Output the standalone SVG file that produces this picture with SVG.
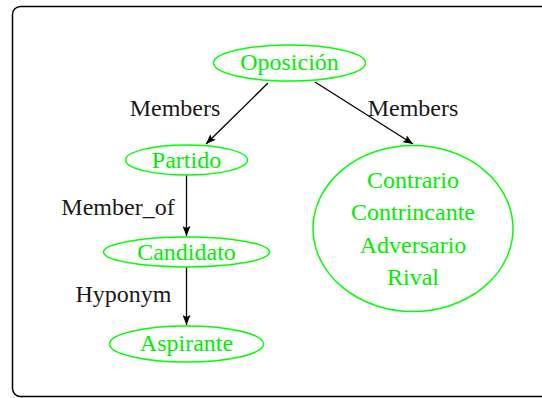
<svg xmlns="http://www.w3.org/2000/svg" width="542" height="398" viewBox="0 0 542 398">
<defs>
<marker id="ah" viewBox="0 0 10 8" refX="10" refY="4" markerWidth="10" markerHeight="8" markerUnits="userSpaceOnUse" orient="auto">
<path d="M0,0 L10,4 L0,8 L2,4 Z" fill="#000"/>
</marker>
</defs>
<rect x="12.5" y="6.5" width="545" height="390" rx="8" fill="#fff" stroke="#000" stroke-width="1.5"/>
<g id="edges" stroke="#000" stroke-width="1.3" fill="none">
<line x1="268" y1="83" x2="206" y2="144" marker-end="url(#ah)"/>
<line x1="315" y1="82" x2="413" y2="144" marker-end="url(#ah)"/>
<line x1="186.5" y1="175" x2="186.5" y2="236" marker-end="url(#ah)"/>
<line x1="186.5" y1="267" x2="186.5" y2="325" marker-end="url(#ah)"/>
</g>
<g id="labels" fill="#1a1a1a">
<text x="175" y="116" font-family="Times New Roman" font-size="24" text-anchor="middle" style="font-family:'Liberation Serif','Times New Roman',serif">Members</text>
<text x="413" y="116" font-family="Times New Roman" font-size="24" text-anchor="middle" style="font-family:'Liberation Serif','Times New Roman',serif">Members</text>
<text x="118" y="215" font-family="Times New Roman" font-size="24" text-anchor="middle" style="font-family:'Liberation Serif','Times New Roman',serif">Member_of</text>
<text x="123.5" y="302" font-family="Times New Roman" font-size="24" text-anchor="middle" style="font-family:'Liberation Serif','Times New Roman',serif">Hyponym</text>
</g>
<g id="oposicion">
<ellipse cx="289.5" cy="63" rx="76" ry="18" fill="none" stroke="#00ff00" stroke-width="1.5"/>
<text x="289.5" y="70" font-family="Times New Roman" font-size="24" text-anchor="middle" fill="#00ee00" style="font-family:'Liberation Serif','Times New Roman',serif">Oposición</text>
</g>
<g id="partido">
<ellipse cx="186.5" cy="160" rx="61" ry="15" fill="none" stroke="#00ff00" stroke-width="1.5"/>
<text x="186.5" y="168" font-family="Times New Roman" font-size="24" text-anchor="middle" fill="#00ee00" style="font-family:'Liberation Serif','Times New Roman',serif">Partido</text>
</g>
<g id="candidato">
<ellipse cx="186.5" cy="252" rx="83" ry="15" fill="none" stroke="#00ff00" stroke-width="1.5"/>
<text x="186.5" y="260" font-family="Times New Roman" font-size="24" text-anchor="middle" fill="#00ee00" style="font-family:'Liberation Serif','Times New Roman',serif">Candidato</text>
</g>
<g id="aspirante">
<ellipse cx="186.5" cy="344" rx="77" ry="18" fill="none" stroke="#00ff00" stroke-width="1.5"/>
<text x="186.5" y="351" font-family="Times New Roman" font-size="24" text-anchor="middle" fill="#00ee00" style="font-family:'Liberation Serif','Times New Roman',serif">Aspirante</text>
</g>
<g id="sinonimos">
<ellipse cx="413" cy="228.5" rx="100" ry="83" fill="none" stroke="#00ff00" stroke-width="1.5"/>
<text x="413" y="188" font-family="Times New Roman" font-size="24" text-anchor="middle" fill="#00ee00" style="font-family:'Liberation Serif','Times New Roman',serif">Contrario</text>
<text x="413" y="220" font-family="Times New Roman" font-size="24" text-anchor="middle" fill="#00ee00" style="font-family:'Liberation Serif','Times New Roman',serif">Contrincante</text>
<text x="413" y="253" font-family="Times New Roman" font-size="24" text-anchor="middle" fill="#00ee00" style="font-family:'Liberation Serif','Times New Roman',serif">Adversario</text>
<text x="413" y="285" font-family="Times New Roman" font-size="24" text-anchor="middle" fill="#00ee00" style="font-family:'Liberation Serif','Times New Roman',serif">Rival</text>
</g>
</svg>
